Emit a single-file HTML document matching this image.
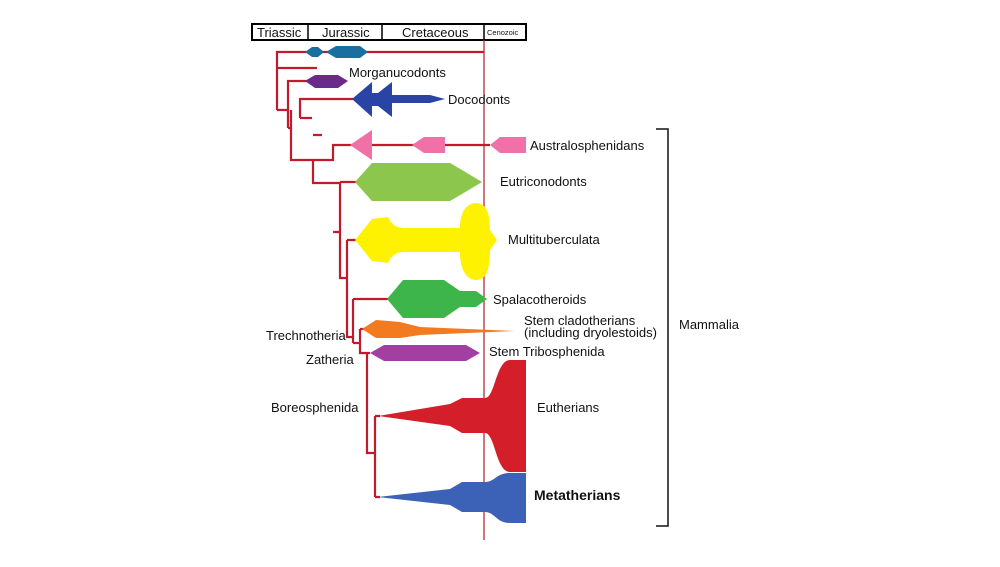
<!DOCTYPE html>
<html><head><meta charset="utf-8"><style>
body{margin:0;background:#fff;width:1000px;height:567px;overflow:hidden}
svg{display:block}
text{font-family:"Liberation Sans",sans-serif;font-size:13px;fill:#111}
</style></head><body>
<svg width="1000" height="567" viewBox="0 0 1000 567">
<!-- header -->
<rect x="252" y="24" width="274" height="16" fill="#fff" stroke="#000" stroke-width="2"/>
<g stroke="#000" stroke-width="1.5"><line x1="308" y1="24" x2="308" y2="40"/><line x1="382" y1="24" x2="382" y2="40"/><line x1="484" y1="24" x2="484" y2="40"/></g>
<text x="257" y="37">Triassic</text><text x="322" y="37">Jurassic</text><text x="402" y="37">Cretaceous</text>
<text x="487" y="35" style="font-size:7.5px">Cenozoic</text>
<line x1="484" y1="40" x2="484" y2="540" stroke="#b81a28" stroke-width="1.2"/>
<!-- tree -->
<g stroke="#c01a2c" stroke-width="2.2" fill="none">
<path d="M277 110V52H484M277 68H317M277 110H288M288 128V81H310M300 118V99H355M300 118H312M288 128H291M291 110V160H313M313 160V183H340M313 160H333V145H490M313 135H322"/>
<path d="M340 182H360M340 182V278H347M340 232H333M347 240V337H353M347 240H360M353 299V343M353 299H390M353 343H360M360 329V353H370M360 329H368M367 353V453H375M375 416V497M375 416H380M375 497H380"/>
</g>
<!-- shapes -->
<path d="M305 52 L312 47 L318 47 L324 52 L318 57 L312 57Z M326 52 L336 46 L360 46 L368 52 L360 58 L336 58Z" fill="#1a6fa0"/>
<path d="M305 81 L315 75 L338 75 L348 81 L338 88 L315 88Z" fill="#6a2a8a"/>
<path d="M352 99 L372 82 L372 93 L378 93 L392 82 L392 95 L430 95 L445 99 L430 103 L392 103 L392 117 L378 106 L372 106 L372 117Z" fill="#2a44a6"/>
<path d="M350 145 L372 130 L372 160Z M412 145 L424 137 L445 137 L445 153 L424 153Z M490 145 L500 137 L526 137 L526 153 L500 153Z" fill="#f070a8"/>
<path d="M355 182 L372 163 L450 163 L462 170 L482 182 L462 194 L450 201 L372 201Z" fill="#8dc64c"/>
<path d="M355 240 L372 219 L388 217 C392 226 398 228 405 228 L460 228 C460 210 468 203 476 203 C487 203 490 215 490 230 L497 240 L490 250 C490 268 487 280 476 280 C468 280 460 272 460 252 L405 252 C398 252 392 254 388 263 L372 261Z" fill="#fff200"/>
<path d="M387 299 L403 280 L444 280 L460 291 L476 291 L487 299 L476 307 L460 307 L444 318 L403 318Z" fill="#3db54a"/>
<path d="M362 329 L376 320 L400 322 L420 327 L515 331 L420 335 L400 338 L376 338Z" fill="#f47a20"/>
<path d="M370 353 L384 345 L466 345 L480 353 L466 361 L384 361Z" fill="#a23fa2"/>
<path d="M378 416 L450 404 L462 398 L485 398 C495 398 496 360 510 360 L526 360 L526 472 L510 472 C496 472 495 433 485 433 L462 433 L450 426Z" fill="#d41f2a"/>
<path d="M378 497 L450 489 L462 482 L485 482 C495 482 496 473 510 473 L526 473 L526 523 L510 523 C496 523 495 512 485 512 L462 512 L450 505Z" fill="#3b62b6"/>
<!-- labels -->
<text x="349" y="77">Morganucodonts</text>
<text x="448" y="104">Docodonts</text>
<text x="530" y="150">Australosphenidans</text>
<text x="500" y="186">Eutriconodonts</text>
<text x="508" y="244">Multituberculata</text>
<text x="493" y="304">Spalacotheroids</text>
<text x="524" y="325">Stem cladotherians</text>
<text x="524" y="337">(including dryolestoids)</text>
<text x="489" y="356">Stem Tribosphenida</text>
<text x="537" y="412">Eutherians</text>
<text x="534" y="500" style="font-weight:bold;font-size:14px">Metatherians</text>
<text x="266" y="340">Trechnotheria</text>
<text x="306" y="364">Zatheria</text>
<text x="271" y="412">Boreosphenida</text>
<text x="679" y="329">Mammalia</text>
<path d="M656 129H668V526H656" stroke="#111" stroke-width="1.5" fill="none"/>
</svg>
</body></html>
